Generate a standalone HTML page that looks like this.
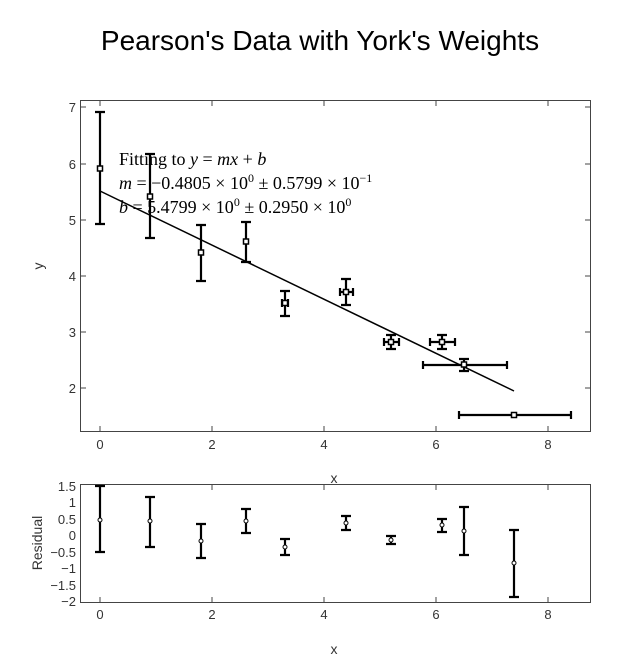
<!DOCTYPE html>
<html><head><meta charset="utf-8"><style>
html,body{margin:0;padding:0;background:#fff}
svg{display:block;font-family:"Liberation Sans",sans-serif}
</style></head><body>
<svg width="640" height="672" viewBox="0 0 640 672" xmlns="http://www.w3.org/2000/svg">
<rect width="640" height="672" fill="#fff"/>
<text x="320" y="50" font-size="28" text-anchor="middle" fill="#000">Pearson's Data with York's Weights</text>
<rect x="80.5" y="100.5" width="510" height="331" fill="none" stroke="#444" stroke-width="1"/>
<g stroke="#444" stroke-width="1">
<line x1="100" y1="431" x2="100" y2="426"/><line x1="212" y1="431" x2="212" y2="426"/><line x1="324" y1="431" x2="324" y2="426"/><line x1="436" y1="431" x2="436" y2="426"/><line x1="548" y1="431" x2="548" y2="426"/>
<line x1="100" y1="101" x2="100" y2="106"/><line x1="212" y1="101" x2="212" y2="106"/><line x1="324" y1="101" x2="324" y2="106"/><line x1="436" y1="101" x2="436" y2="106"/><line x1="548" y1="101" x2="548" y2="106"/>
<line x1="81" y1="107" x2="86" y2="107"/><line x1="81" y1="164" x2="86" y2="164"/><line x1="81" y1="220" x2="86" y2="220"/><line x1="81" y1="276" x2="86" y2="276"/><line x1="81" y1="332" x2="86" y2="332"/><line x1="81" y1="388" x2="86" y2="388"/>
<line x1="590" y1="107" x2="585" y2="107"/><line x1="590" y1="164" x2="585" y2="164"/><line x1="590" y1="220" x2="585" y2="220"/><line x1="590" y1="276" x2="585" y2="276"/><line x1="590" y1="332" x2="585" y2="332"/><line x1="590" y1="388" x2="585" y2="388"/>
</g>
<g font-size="13" fill="#333" text-anchor="end">
<text x="76" y="112">7</text><text x="76" y="169">6</text><text x="76" y="225">5</text><text x="76" y="281">4</text><text x="76" y="337">3</text><text x="76" y="393">2</text>
</g>
<g font-size="13" fill="#333" text-anchor="middle">
<text x="100" y="449">0</text><text x="212" y="449">2</text><text x="324" y="449">4</text><text x="436" y="449">6</text><text x="548" y="449">8</text>
</g>
<text x="334" y="483" font-size="14" text-anchor="middle" fill="#333">x</text>
<text x="43" y="266" font-size="14" text-anchor="middle" fill="#333" transform="rotate(-90 43 266)">y</text>
<line x1="100" y1="191" x2="514" y2="391" stroke="#000" stroke-width="1.5"/>
<g stroke="#000" stroke-width="2.2" fill="none">
<path d="M100 112V224M95 112H105M95 224H105"/>
<path d="M150 154V238M145 154H155M145 238H155"/>
<path d="M201 225V281M196 225H206M196 281H206"/>
<path d="M246 222V262M241 222H251M241 262H251"/>
<path d="M285 291V316M280 291H290M280 316H290M282 303H288M282 299V307M288 299V307"/>
<path d="M346 279V305M341 279H351M341 305H351M340 292H353M340 288V296M353 288V296"/>
<path d="M391 335V349M386 335H396M386 349H396M384 342H399M384 338V346M399 338V346"/>
<path d="M442 335V349M437 335H447M437 349H447M430 342H455M430 338V346M455 338V346"/>
<path d="M464 359V371M459 359H469M459 371H469M423 365H507M423 361V369M507 361V369"/>
<path d="M514 413V417M459 415H571M459 411V419M571 411V419"/>
</g>
<g fill="#fff" stroke="#000" stroke-width="1.5">
<rect x="97.5" y="166" width="5" height="5"/><rect x="147.5" y="194" width="5" height="5"/><rect x="198.5" y="250" width="5" height="5"/><rect x="243.5" y="239" width="5" height="5"/>
<rect x="282.5" y="300.5" width="5" height="5"/><rect x="343.5" y="289.5" width="5" height="5"/><rect x="388.5" y="339.5" width="5" height="5"/><rect x="439.5" y="339.5" width="5" height="5"/><rect x="461.5" y="362" width="5" height="5"/><rect x="511.5" y="412.5" width="5" height="5"/>
</g>
<g font-family="'Liberation Serif',serif" font-size="18" fill="#000">
<text x="119" y="165">Fitting to <tspan font-style="italic">y</tspan> = <tspan font-style="italic">mx</tspan> + <tspan font-style="italic">b</tspan></text>
<text x="119" y="189"><tspan font-style="italic">m</tspan> = −0.4805 × 10<tspan font-size="12" dy="-7">0</tspan><tspan dy="7"> ± 0.5799 × 10</tspan><tspan font-size="12" dy="-7">−1</tspan></text>
<text x="119" y="213"><tspan font-style="italic">b</tspan> = 5.4799 × 10<tspan font-size="12" dy="-7">0</tspan><tspan dy="7"> ± 0.2950 × 10</tspan><tspan font-size="12" dy="-7">0</tspan></text>
</g>
<rect x="80.5" y="484.5" width="510" height="118" fill="none" stroke="#444" stroke-width="1"/>
<g stroke="#444" stroke-width="1">
<line x1="100" y1="602" x2="100" y2="597"/><line x1="212" y1="602" x2="212" y2="597"/><line x1="324" y1="602" x2="324" y2="597"/><line x1="436" y1="602" x2="436" y2="597"/><line x1="548" y1="602" x2="548" y2="597"/>
<line x1="100" y1="485" x2="100" y2="490"/><line x1="212" y1="485" x2="212" y2="490"/><line x1="324" y1="485" x2="324" y2="490"/><line x1="436" y1="485" x2="436" y2="490"/><line x1="548" y1="485" x2="548" y2="490"/>
</g>
<g font-size="13" fill="#333" text-anchor="end">
<text x="76" y="491">1.5</text><text x="76" y="507">1</text><text x="76" y="524">0.5</text><text x="76" y="540">0</text><text x="76" y="557">−0.5</text><text x="76" y="573">−1</text><text x="76" y="590">−1.5</text><text x="76" y="606">−2</text>
</g>
<g font-size="13" fill="#333" text-anchor="middle">
<text x="100" y="619">0</text><text x="212" y="619">2</text><text x="324" y="619">4</text><text x="436" y="619">6</text><text x="548" y="619">8</text>
</g>
<text x="334" y="654" font-size="14" text-anchor="middle" fill="#333">x</text>
<text x="42" y="543" font-size="14" text-anchor="middle" fill="#333" transform="rotate(-90 42 543)">Residual</text>
<g stroke="#000" stroke-width="2.2" fill="none">
<path d="M100 486V552M95 486H105M95 552H105"/>
<path d="M150 497V547M145 497H155M145 547H155"/>
<path d="M201 524V558M196 524H206M196 558H206"/>
<path d="M246 509V533M241 509H251M241 533H251"/>
<path d="M285 539V555M280 539H290M280 555H290"/>
<path d="M346 516V530M341 516H351M341 530H351"/>
<path d="M391 536V544M386 536H396M386 544H396"/>
<path d="M442 519V532M437 519H447M437 532H447"/>
<path d="M464 507V555M459 507H469M459 555H469"/>
<path d="M514 530V597M509 530H519M509 597H519"/>
</g>
<g fill="#fff" stroke="#000" stroke-width="1">
<circle cx="100" cy="520" r="2"/><circle cx="150" cy="521" r="2"/><circle cx="201" cy="541" r="2"/><circle cx="246" cy="521" r="2"/><circle cx="285" cy="547" r="2"/><circle cx="346" cy="523" r="2"/><circle cx="391" cy="540" r="2"/><circle cx="442" cy="525" r="2"/><circle cx="464" cy="531" r="2"/><circle cx="514" cy="563" r="2"/>
</g>
</svg>
</body></html>
